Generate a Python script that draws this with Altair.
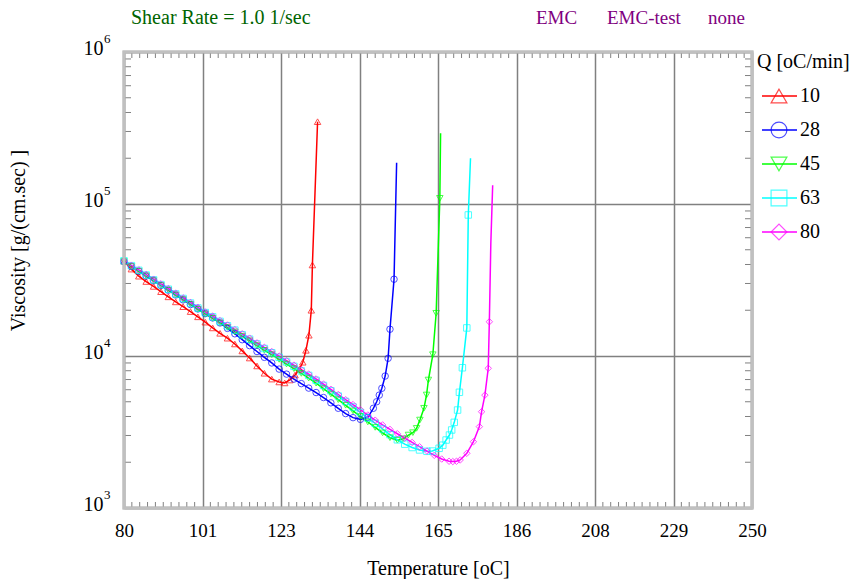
import altair as alt
import pandas as pd

# Heating rates and their plotting styles
Q_RATES = ["10", "28", "45", "63", "80"]
SERIES_COLORS = ["#ff0000", "#0000ff", "#00ff00", "#00ffff", "#ff00ff"]
SERIES_SHAPES = ["triangle-up", "circle", "triangle-down", "square", "diamond"]

# Temperatures of the samples on the falling branch [oC]
GRID_T = [80, 82, 84, 86, 88, 90, 92, 94, 96, 98, 100, 102, 104, 106, 108, 110,
          112, 114, 116, 118, 120, 122, 124, 126, 128, 130, 132, 134, 136, 138,
          140, 142, 144, 146, 148, 150, 152, 154, 156, 158, 160, 162, 164, 166, 168]

# Q = 10 oC/min
V10 = [42000, 37300, 33500, 30900, 28700, 26500, 24500, 22700, 21100, 19600, 18100,
       16700, 15300, 14100, 13100, 12000, 10800, 9700, 8600, 7700, 7050, 6750]
RISE_T10 = [123.5, 124.9, 126.3, 127.5, 128.4, 129.25, 130.05, 130.7, 131.0, 132.4]
RISE_V10 = [6650, 6950, 7500, 8200, 9100, 10900, 13700, 20000, 39700, 348000]
TIP_T10 = []
TIP_V10 = []

# Q = 28 oC/min
V28 = [41800, 38800, 36100, 33600, 31300, 29100, 27100, 25200, 23400, 21800, 20400,
       19000, 17800, 16500, 15200, 14000, 12800, 11700, 10700, 9800, 9000, 8200,
       7600, 7050, 6580, 6150, 5750, 5330, 4920, 4530, 4180, 3930, 3830, 3950]
RISE_T28 = [147.5, 148.4, 149.1, 149.8, 150.7, 151.5, 152.0, 153.1]
RISE_V28 = [4530, 5000, 5530, 6130, 7380, 9660, 15000, 32000]
TIP_T28 = [153.8]
TIP_V28 = [187000]

# Q = 45 oC/min
V45 = [41800, 38800, 36100, 33700, 31300, 29100, 27100, 25200, 23500, 21900, 20300,
       18900, 17700, 16500, 15400, 14400, 13500, 12600, 11700, 10900, 10200, 9500,
       8850, 8250, 7680, 7150, 6620, 6100, 5620, 5160, 4740, 4350, 4000, 3680, 3390,
       3120, 2900]
RISE_T45 = [154, 155.5, 157, 158.2, 159.2, 160.1, 161.2, 161.9, 162.4, 163.6, 164.5, 165.5]
RISE_V45 = [2790, 2850, 3020, 3130, 3340, 3790, 4530, 5540, 6950, 10200, 19100, 109000]
TIP_T45 = [165.7]
TIP_V45 = [292000]

# Q = 63 oC/min
V63 = [42300, 39300, 36600, 34100, 31700, 29500, 27500, 25600, 23900, 22300, 20700,
       19300, 18100, 16900, 15800, 14800, 13800, 12900, 12000, 11200, 10500, 9800,
       9150, 8550, 7980, 7450, 6920, 6400, 5910, 5450, 5020, 4620, 4250, 3910, 3600,
       3310, 3040, 2810, 2630, 2500, 2410, 2360]
RISE_T63 = [163.5, 165.3, 166.3, 167.2, 168.1, 168.7, 169.4, 170.3, 170.8, 171.6, 172.8, 173.2]
RISE_V63 = [2370, 2470, 2590, 2800, 3020, 3260, 3660, 4410, 5770, 8370, 15300, 84700]
TIP_T63 = [173.8]
TIP_V63 = [200000]

# Q = 80 oC/min
V80 = [42500, 39500, 36900, 34400, 32000, 29800, 27800, 25900, 24100, 22500, 20900,
       19500, 18300, 17100, 16000, 14900, 14000, 13100, 12200, 11400, 10700, 9980,
       9310, 8710, 8130, 7600, 7060, 6530, 6040, 5580, 5160, 4790, 4430, 4090, 3780,
       3520, 3290, 3080, 2880, 2700, 2530, 2370, 2220, 2100, 2030]
RISE_T80 = [169, 170, 171, 172.8, 174.6, 176.2, 176.8, 177.7, 178.6, 178.9]
RISE_V80 = [2020, 2030, 2070, 2290, 2730, 3430, 4300, 5530, 8300, 16800]
TIP_T80 = [179.3, 179.8]
TIP_V80 = [55000, 133000]

X_MAJOR = [80, 101.25, 122.5, 143.75, 165, 186.25, 207.5, 228.75, 250]
Y_DECADES = [1e3, 1e4, 1e5, 1e6]
Y_EXPONENTS = ["3", "4", "5", "6"]

SERIES = [
    ("10", V10, RISE_T10, RISE_V10, TIP_T10, TIP_V10),
    ("28", V28, RISE_T28, RISE_V28, TIP_T28, TIP_V28),
    ("45", V45, RISE_T45, RISE_V45, TIP_T45, TIP_V45),
    ("63", V63, RISE_T63, RISE_V63, TIP_T63, TIP_V63),
    ("80", V80, RISE_T80, RISE_V80, TIP_T80, TIP_V80),
]

rows = []
for q, desc, rt, rv, tt, tv in SERIES:
    for t, v in list(zip(GRID_T[:len(desc)], desc)) + list(zip(rt, rv)):
        rows.append({"Q": q, "T": t, "V": v, "marked": True})
    for t, v in zip(tt, tv):
        rows.append({"Q": q, "T": t, "V": v, "marked": False})
df = pd.DataFrame(rows)
df["idx"] = range(len(df))

W, H = 628, 456
FONT = "Liberation Serif"
GRID_COLOR = "#808080"
FRAME_COLOR = "#c0c0c0"
TEXT_SIZE = 20

x_scale = alt.Scale(domain=[80, 250], nice=False, zero=False)
y_scale = alt.Scale(type="log", domain=[1e3, 1e6], nice=False)
color_scale = alt.Scale(domain=Q_RATES, range=SERIES_COLORS)
shape_scale = alt.Scale(domain=Q_RATES, range=SERIES_SHAPES)

axis_style = dict(labelFont=FONT, labelColor="black",
                  titleFont=FONT, titleFontSize=TEXT_SIZE, titleFontWeight="normal",
                  titleColor="black", gridColor=GRID_COLOR, gridWidth=1.5,
                  gridOpacity=1, grid=True, ticks=False, domain=False,
                  labelOverlap=False, labelFlush=False)

x_axis = alt.Axis(values=X_MAJOR, labelExpr="format(datum.value, '.0f')",
                  title="Temperature [oC]", labelPadding=13, labelFontSize=19,
                  titleX=W / 2, titleY=60, titleBaseline="middle", titleAlign="center",
                  **axis_style)
y_axis = alt.Axis(values=Y_DECADES, labelExpr="'10'", title="Viscosity [g/(cm.sec) ]",
                  labelPadding=21, labelOffset=-4, labelFontSize=20,
                  titleX=-106, titleY=188, titleBaseline="middle", titleAlign="center",
                  **axis_style)

x_enc = alt.X("T:Q", scale=x_scale, axis=x_axis)
y_enc = alt.Y("V:Q", scale=y_scale, axis=y_axis)

lines = alt.Chart(df).mark_line(strokeWidth=1.5).encode(
    x=x_enc, y=y_enc,
    color=alt.Color("Q:N", scale=color_scale, legend=None),
    order=alt.Order("idx:Q"),
)
points = alt.Chart(df).transform_filter("datum.marked").mark_point(
    filled=False, size=42, strokeWidth=1
).encode(
    x=x_enc, y=y_enc,
    color=alt.Color("Q:N", scale=color_scale, legend=None),
    shape=alt.Shape("Q:N", scale=shape_scale, legend=None),
    order=alt.Order("idx:Q"),
)

# Minor ticks pointing into the frame
x_minor = [80 + k * 2.125 for k in range(1, 80) if k % 10 != 0]
y_minor = [m * d for d in [1e3, 1e4, 1e5] for m in range(2, 10)]
xm = pd.DataFrame({"T": x_minor})
ym = pd.DataFrame({"V": y_minor})
tick_style = dict(color=GRID_COLOR, strokeWidth=1)
ticks_top = alt.Chart(xm).mark_rule(**tick_style).encode(
    x=x_enc, y=alt.value(0), y2=alt.value(6))
ticks_bottom = alt.Chart(xm).mark_rule(**tick_style).encode(
    x=x_enc, y=alt.value(H), y2=alt.value(H - 6))
ticks_left = alt.Chart(ym).mark_rule(**tick_style).encode(
    y=y_enc, x=alt.value(0), x2=alt.value(7))
ticks_right = alt.Chart(ym).mark_rule(**tick_style).encode(
    y=y_enc, x=alt.value(W), x2=alt.value(W - 7))

# Light frame around the plot area, drawn above the edge grid lines
frame = alt.Chart(pd.DataFrame({"f": [0]})).mark_rect(
    fillOpacity=0, stroke=FRAME_COLOR, strokeWidth=3
).encode(x=alt.value(0), x2=alt.value(W), y=alt.value(0), y2=alt.value(H))

# Exponents of the decade labels
exp_df = pd.DataFrame({"V": Y_DECADES, "e": Y_EXPONENTS})
exponents = alt.Chart(exp_df).mark_text(
    align="left", baseline="middle", font=FONT, fontSize=13, dy=-13, color="black"
).encode(y=y_enc, x=alt.value(-20), text="e:N")

# Header texts
header_df = pd.DataFrame({"label": ["Shear Rate = 1.0 1/sec"]})
shear = alt.Chart(header_df).mark_text(
    align="left", baseline="middle", font=FONT, fontSize=TEXT_SIZE, color="#006400"
).encode(x=alt.value(7), y=alt.value(-34), text="label:N")

header_words = ["EMC", "EMC-test", "none"]
header_x = [412, 483, 584]
header_layers = []
for word, hx in zip(header_words, header_x):
    header_layers.append(
        alt.Chart(pd.DataFrame({"label": [word]})).mark_text(
            align="left", baseline="middle", font=FONT, fontSize=19, color="#800080"
        ).encode(x=alt.value(hx), y=alt.value(-34), text="label:N")
    )

# Legend drawn beside the plot
legend_layers = [
    alt.Chart(pd.DataFrame({"label": ["Q [oC/min]"]})).mark_text(
        align="left", baseline="middle", font=FONT, fontSize=TEXT_SIZE, color="black"
    ).encode(x=alt.value(633), y=alt.value(10), text="label:N")
]
for i, (q, col, shp) in enumerate(zip(Q_RATES, SERIES_COLORS, SERIES_SHAPES)):
    ly = 44 + 34 * i
    one = pd.DataFrame({"label": [q]})
    legend_layers.append(
        alt.Chart(one).mark_rule(color=col, strokeWidth=1.5).encode(
            x=alt.value(638), x2=alt.value(673), y=alt.value(ly)))
    legend_layers.append(
        alt.Chart(one).mark_point(shape=shp, filled=False, size=250, strokeWidth=1.2,
                                  color=col).encode(x=alt.value(655), y=alt.value(ly)))
    legend_layers.append(
        alt.Chart(one).mark_text(align="left", baseline="middle", font=FONT,
                                 fontSize=TEXT_SIZE, color="black").encode(
            x=alt.value(676), y=alt.value(ly), text="label:N"))

chart = alt.layer(
    lines, points, ticks_top, ticks_bottom, ticks_left, ticks_right, frame, exponents,
    shear, *header_layers, *legend_layers
).properties(
    width=W, height=H,
    background="white",
    padding={"left": 124, "top": 52, "right": 105, "bottom": 71},
    autosize=alt.AutoSizeParams(type="none"),
).configure_view(
    stroke=FRAME_COLOR, strokeWidth=3
)

chart.save("out.html", embed_options={"renderer": "svg", "actions": False})
